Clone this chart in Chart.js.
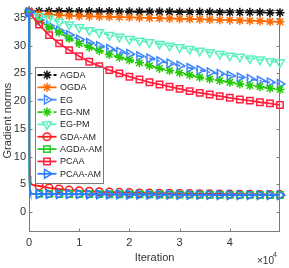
<!DOCTYPE html>
<html><head><meta charset="utf-8">
<script src="https://cdn.jsdelivr.net/npm/chart.js@4/dist/chart.umd.min.js"></script>
<style>html,body{margin:0;padding:0;background:#fff;}canvas{display:block;}</style>
</head><body>
<canvas id="c" width="289" height="268"></canvas>
<script>
// ---- data ----
const seriesNames = ['AGDA','OGDA','EG','EG-NM','EG-PM','GDA-AM','AGDA-AM','PCAA','PCAA-AM'];
const iterCoarse = [0,2000,4000,6000,8000,10000,12000,14000,16000,18000,20000,22000,24000,26000,28000,30000,32000,34000,36000,38000,40000,42000,44000,46000,48000,50000];
const iterAM = [0,50,100,200,300,500,800,1200,2000,4000,6000,8000,10000,12000,14000,16000,18000,20000,22000,24000,26000,28000,30000,32000,34000,36000,38000,40000,42000,44000,46000,48000,50000];
const agda   = [36.25,36.2,36.2,36.2,36.2,36.15,36.15,36.15,36.15,36.1,36.1,36.1,36.1,36.1,36.1,36.05,36.05,36.05,36.05,36.0,36.0,36.0,36.0,36.0,35.95,35.95];
const ogda   = [36.2,35.7,35.6,35.5,35.4,35.35,35.3,35.25,35.2,35.15,35.1,35.05,35.0,34.95,34.9,34.85,34.8,34.75,34.7,34.65,34.6,34.55,34.5,34.45,34.35,34.3];
const eg     = [36.0,34.6,33.6,32.7,31.9,31.1,30.5,29.9,29.4,28.9,28.5,28.1,27.7,27.2,26.8,26.4,26.0,25.6,25.2,24.9,24.6,24.3,24.0,23.7,23.4,23.1];
const egNM   = [36.0,34.5,33.3,32.4,31.3,30.4,29.7,29.1,28.4,27.9,27.4,26.9,26.4,25.9,25.5,25.1,24.7,24.3,24.0,23.7,23.4,23.1,22.8,22.6,22.3,22.1];
const egPM   = [36.0,35.3,34.9,34.3,33.8,33.3,32.8,32.4,31.9,31.6,31.2,30.9,30.6,30.3,30.0,29.7,29.4,29.1,28.8,28.5,28.2,28.0,27.7,27.5,27.2,27.0];
const gdaAM  = [36,22,12,6.5,5.4,5.0,4.9,4.8,4.7,4.35,4.15,3.95,3.85,3.75,3.65,3.6,3.55,3.5,3.45,3.42,3.4,3.37,3.35,3.32,3.3,3.28,3.26,3.24,3.22,3.2,3.18,3.16,3.15];
const agdaAM = [36,17,7,4.0,3.5,3.35,3.3,3.3,3.3,3.28,3.27,3.26,3.25,3.24,3.23,3.22,3.21,3.2,3.19,3.18,3.17,3.16,3.15,3.14,3.13,3.12,3.11,3.1,3.1,3.09,3.08,3.08,3.07];
const pcaa   = [36.0,33.8,31.9,30.4,29.2,28.1,27.1,26.3,25.6,25.0,24.4,23.9,23.4,23.0,22.6,22.2,21.8,21.5,21.2,20.9,20.6,20.3,20.1,19.8,19.6,19.3];
const pcaaAM = [36,15,6,3.8,3.4,3.3,3.28,3.27,3.26,3.25,3.24,3.23,3.22,3.21,3.2,3.19,3.18,3.17,3.16,3.15,3.14,3.13,3.12,3.11,3.1,3.09,3.08,3.08,3.07,3.06,3.06,3.05,3.05];
const yTickValues = [0,5,10,15,20,25,30,35];
const xTickValues = [0,10000,20000,30000,40000];

// ---- styles ----
const styles = [
  {c:'#111111', dash:[5,3], ps:'star', r:4.5, rot:0, iters:iterCoarse, vals:agda},
  {c:'#ff6a00', dash:[], ps:'star', r:4.5, rot:0, iters:iterCoarse, vals:ogda},
  {c:'#3d86ff', dash:[6,2.5,2,2.5], ps:'triangle', r:5, rot:90, iters:iterCoarse, vals:eg},
  {c:'#22cc00', dash:[5,3], ps:'star', r:4.5, rot:0, iters:iterCoarse, vals:egNM},
  {c:'#5cf0c0', dash:[6,2.5,2,2.5], ps:'triangle', r:5, rot:180, iters:iterCoarse, vals:egPM},
  {c:'#ff1c1c', dash:[], ps:'circle', r:3.8, rot:0, iters:iterAM, vals:gdaAM},
  {c:'#22cc22', dash:[], ps:'rect', r:4.5, rot:0, iters:iterAM, vals:agdaAM},
  {c:'#ff2040', dash:[], ps:'rect', r:4.5, rot:0, iters:iterCoarse, vals:pcaa},
  {c:'#2f7bff', dash:[], ps:'triangle', r:5, rot:90, iters:iterAM, vals:pcaaAM}
];

const datasets = styles.map((s,i)=>({
  label: seriesNames[i],
  data: s.iters.map((x,j)=>({x:x, y:s.vals[j]})),
  borderColor: s.c,
  borderWidth: 1.8,
  borderDash: s.dash,
  pointStyle: s.ps,
  pointRotation: s.rot,
  pointBorderColor: s.c,
  pointBackgroundColor: 'rgba(0,0,0,0)',
  pointBorderWidth: 1.5,
  pointRadius: ctx => (s.iters[ctx.dataIndex] % 2000 === 0 ? s.r : 0),
  pointHoverRadius: 0,
  tension: 0,
  fill: false,
  clip: false,
  order: 9 - i
}));

const FONT = '"Liberation Sans", Arial, Helvetica, sans-serif';
const AXC = '#333333';

function drawMarker(ctx, style, x, y, r, rot){
  ctx.save();
  ctx.translate(x,y);
  ctx.rotate(rot*Math.PI/180);
  ctx.beginPath();
  if(style==='star'){
    for(let k=0;k<4;k++){
      const a=k*Math.PI/4;
      ctx.moveTo(-Math.cos(a)*r,-Math.sin(a)*r);
      ctx.lineTo(Math.cos(a)*r,Math.sin(a)*r);
    }
  } else if(style==='triangle'){
    ctx.moveTo(0,-r);
    ctx.lineTo(r*Math.cos(Math.PI/6),r*Math.sin(Math.PI/6));
    ctx.lineTo(-r*Math.cos(Math.PI/6),r*Math.sin(Math.PI/6));
    ctx.closePath();
  } else if(style==='circle'){
    ctx.arc(0,0,r,0,Math.PI*2);
  } else if(style==='rect'){
    const s=r*Math.SQRT1_2;
    ctx.rect(-s,-s,2*s,2*s);
  }
  ctx.stroke();
  ctx.restore();
}

const framePlugin = {
  id:'frame',
  beforeDatasetsDraw(chart){
    const {ctx, chartArea:a, scales} = chart;
    ctx.save();
    ctx.strokeStyle = '#7a7a7a';
    ctx.lineWidth = 1;
    const L=Math.round(a.left)+0.5, R=Math.round(a.right)-0.5, T=Math.round(a.top)+0.5, B=Math.round(a.bottom)-0.5;
    ctx.strokeRect(L,T,R-L,B-T);
    ctx.beginPath();
    const tl=3;
    yTickValues.forEach(v=>{
      const y=Math.round(scales.y.getPixelForValue(v))+0.5;
      ctx.moveTo(L,y); ctx.lineTo(L+tl,y);
      ctx.moveTo(R,y); ctx.lineTo(R-tl,y);
    });
    xTickValues.forEach(v=>{
      const x=Math.round(scales.x.getPixelForValue(v))+0.5;
      ctx.moveTo(x,B); ctx.lineTo(x,B-tl);
      ctx.moveTo(x,T); ctx.lineTo(x,T+tl);
    });
    ctx.stroke();
    ctx.restore();
  },
  afterDatasetsDraw(chart){
    const {ctx} = chart;
    ctx.save();
    // legend box
    const bx=35.5, by=67.5, bw=68, bh=116;
    ctx.fillStyle='#ffffff';
    ctx.fillRect(bx,by,bw,bh);
    ctx.strokeStyle='#7a7a7a';
    ctx.lineWidth=1;
    ctx.strokeRect(bx,by,bw,bh);
    ctx.font = '9px '+FONT;
    ctx.textBaseline='middle';
    ctx.textAlign='left';
    styles.forEach((s,i)=>{
      const y = 75 + i*12.35;
      ctx.strokeStyle=s.c;
      ctx.lineWidth=1.8;
      ctx.setLineDash(s.dash);
      ctx.beginPath(); ctx.moveTo(37.5,y); ctx.lineTo(56.5,y); ctx.stroke();
      ctx.setLineDash([]);
      ctx.lineWidth=1.5;
      drawMarker(ctx, s.ps, 47, y, s.r, s.rot);
      ctx.fillStyle='#222';
      ctx.fillText(seriesNames[i], 60, y+0.5);
    });
    // x10^4 exponent label
    ctx.fillStyle=AXC;
    ctx.font='10px '+FONT;
    ctx.textBaseline='middle';
    ctx.textAlign='left';
    ctx.fillText('\u00d710', 257, 261);
    ctx.font='7px '+FONT;
    ctx.fillText('4', 273, 255.5);
    ctx.restore();
  }
};

new Chart(document.getElementById('c'), {
  type:'line',
  data:{datasets},
  options:{
    responsive:false,
    animation:false,
    devicePixelRatio:1,
    layout:{padding:{top:4.5,right:9,left:0,bottom:0}},
    plugins:{legend:{display:false}, tooltip:{enabled:false}},
    events:[],
    scales:{
      x:{
        type:'linear', min:0, max:50000,
        afterFit(s){ s.height = 36.5; },
        afterBuildTicks(s){ s.ticks = xTickValues.map(v=>({value:v})); },
        grid:{display:false, drawTicks:false},
        border:{display:false},
        ticks:{padding:5, color:AXC, font:{family:FONT, size:11}, callback:v=>String(v/10000), maxRotation:0},
        title:{display:true, text:'Iteration', color:AXC, font:{family:FONT, size:11}, padding:{top:0,bottom:3}}
      },
      y:{
        type:'linear', min:-3.5, max:36.5,
        afterFit(s){ s.width = 29; },
        afterBuildTicks(s){ s.ticks = yTickValues.map(v=>({value:v})); },
        grid:{display:false, drawTicks:false},
        border:{display:false},
        ticks:{padding:3, color:AXC, font:{family:FONT, size:11}},
        title:{display:true, text:'Gradient norms', color:AXC, font:{family:FONT, size:11}, padding:{top:1,bottom:0}}
      }
    }
  },
  plugins:[framePlugin]
});
</script>
</body></html>
